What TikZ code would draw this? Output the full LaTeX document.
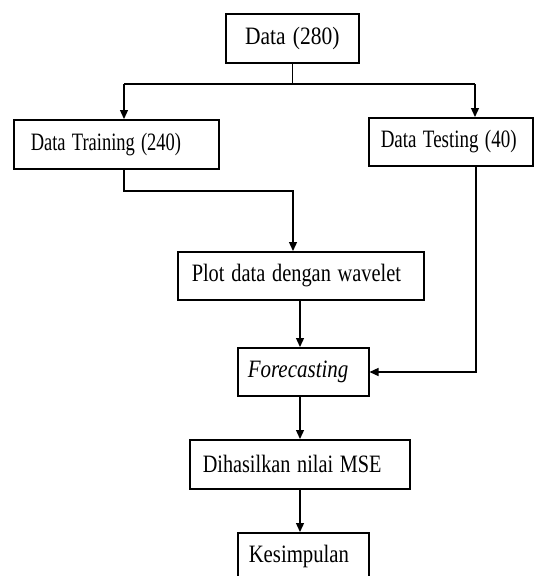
\documentclass[tikz,border=0pt]{standalone}
\usepackage{fontspec}
\usepackage{graphicx}
\setmainfont{Liberation Serif}
\usetikzlibrary{arrows.meta}
\newcommand{\sx}[2]{\scalebox{#1}[1]{#2}}
\begin{document}
\begin{tikzpicture}[x=1pt,y=-1pt,
  box/.style={draw, line width=1.5pt, anchor=north west, inner ysep=0pt, align=left,
              font=\fontsize{25}{28}\selectfont},
  arr/.style={line width=1.3pt, -{Triangle[length=9pt,width=8pt]}},
  ln/.style={line width=1.3pt}]
\useasboundingbox (0,0) rectangle (535,576);
\fill[white] (0,0) rectangle (535,576);

\node[box, align=center, inner xsep=0pt, text width=133pt, minimum height=49pt] (data) at (225,13) {\sx{0.86}{Data (280)}};
\node[box, inner xsep=17pt, text width=171pt, minimum height=49pt] (train) at (13,119) {\sx{0.74}{Data Training (240)}};
\node[box, inner xsep=12pt, text width=140pt, minimum height=48pt] (test) at (368,117) {\sx{0.76}{Data Testing (40)}};
\node[box, inner xsep=14pt, text width=218pt, minimum height=48pt] (plot) at (177,251) {\sx{0.815}{Plot data dengan wavelet}};
\node[box, inner xsep=10pt, text width=111pt, minimum height=48pt] (fore) at (237,347) {\sx{0.84}{\itshape Forecasting}};
\node[box, inner xsep=13pt, text width=194pt, minimum height=49pt] (mse) at (189,439) {\sx{0.81}{Dihasilkan nilai MSE}};
\node[box, inner xsep=11pt, text width=109pt, minimum height=48pt] (kes) at (237,532) {\sx{0.83}{Kesimpulan}};

\coordinate (jl) at (124,84);
\coordinate (jr) at (475,84);
\coordinate (tb) at (124,191);
\coordinate (pt) at (293,191);
\coordinate (tr) at (476,372);
\coordinate (ax) at (300,0);

\draw[ln] (data.south) -- (data.south |- jl);
\draw[ln] (jl) -- (jr);
\draw[arr] (jl) -- (jl |- train.north);
\draw[arr] (jr) -- (jr |- test.north);
\draw[arr] (tb |- train.south) -- (tb) -- (pt) -- (pt |- plot.north);
\draw[arr] (tr |- test.south) -- (tr) -- (fore.east |- tr);
\draw[arr] (ax |- plot.south) -- (ax |- fore.north);
\draw[arr] (ax |- fore.south) -- (ax |- mse.north);
\draw[arr] (ax |- mse.south) -- (ax |- kes.north);
\end{tikzpicture}
\end{document}
